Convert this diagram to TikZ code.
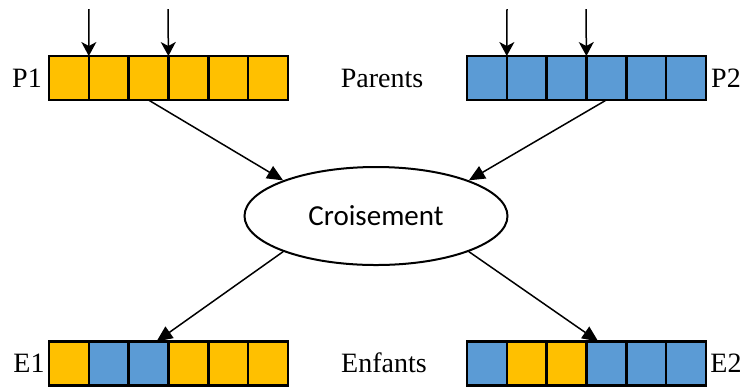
\documentclass[tikz,border=0pt]{standalone}
\usepackage{fontspec}
\setmainfont{Liberation Serif}
\newfontfamily\crsans{Carlito}
\usetikzlibrary{shapes.geometric,arrows.meta,calc}
\definecolor{crjaune}{HTML}{FFC000}
\definecolor{crbleu}{HTML}{5B9BD5}

\tikzset{
  gene/.style={draw=black,line width=1.3pt,minimum width=19.9pt,minimum height=22pt,inner sep=0pt,outer sep=0pt},
  fleche/.style={-{Triangle[length=8pt,width=7pt]},line width=0.75pt},
  coupe/.style={-{Stealth[length=7pt,width=7.5pt,inset=2pt]},line width=0.75pt},
  etiq/.style={anchor=base,inner sep=0pt},
}

\begin{document}
\begin{tikzpicture}[x=0.5pt,y=-0.5pt,font=\fontsize{14}{16}\selectfont]
  \useasboundingbox (0,0) rectangle (745,388);
  % chromosomes : nom / x gauche / y centre / couleurs des genes
  \foreach \nom/\x/\y/\ca/\cb/\cc/\cd/\ce/\cf in {%
    p1/49/78/crjaune/crjaune/crjaune/crjaune/crjaune/crjaune,
    p2/467/78/crbleu/crbleu/crbleu/crbleu/crbleu/crbleu,
    e1/49/363.5/crjaune/crbleu/crbleu/crjaune/crjaune/crjaune,
    e2/467/363.5/crbleu/crjaune/crjaune/crbleu/crbleu/crbleu} {
    \foreach \i/\col in {1/\ca,2/\cb,3/\cc,4/\cd,5/\ce,6/\cf}
      \node[gene,fill=\col] (\nom c\i) at (\x+39.8*\i-19.9,\y) {};
  }
  % etiquettes
  \node[etiq] (lp1) at (27,87) {P1};
  \node[etiq] (lp2) at (726,87) {P2};
  \node[etiq] (le1) at (29,372) {E1};
  \node[etiq] (le2) at (726,372) {E2};
  \node[etiq] (parents) at (382,87) {Parents};
  \node[etiq] (enfants) at (384,372) {Enfants};
  % operateur
  \node[ellipse,draw,line width=1pt,minimum width=131.5pt,minimum height=49pt,inner sep=0pt,
        font=\crsans\fontsize{14.5}{16}\selectfont] (cross) at (376,216) {Croisement};
  % points de coupure
  \foreach \nom/\x/\c in {h1/89/p1c1,h2/168/p1c3,h3/507/p2c1,h4/586/p2c3} {
    \coordinate (\nom) at (\x,9);
    \draw[coupe] (\nom) -- (\c.north east);
  }
  % liaisons
  \draw[fleche] (p1c3.south) -- (cross.159);
  \draw[fleche] (p2c4.south) -- (cross.21);
  \draw[fleche] (cross.201) -- (e1c3.70);
  \draw[fleche] (cross.339) -- (e2c4.110);
\end{tikzpicture}
\end{document}
